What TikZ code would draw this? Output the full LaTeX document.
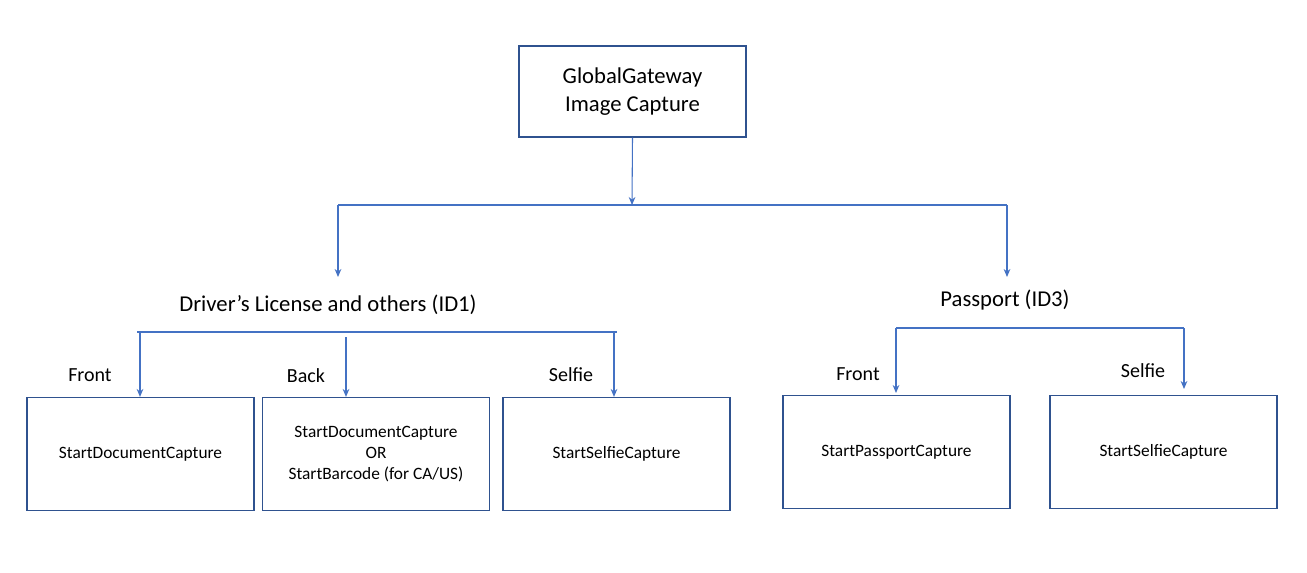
\documentclass[tikz,border=0pt]{standalone}
\usepackage{fontspec}
\setmainfont{Carlito}
\usetikzlibrary{arrows.meta}
\definecolor{bx}{HTML}{2F528F}
\definecolor{ln}{HTML}{4472C4}
\begin{document}
\begin{tikzpicture}[x=0.75pt,y=-0.75pt,
  box/.style={draw=bx,line width=0.9pt,fill=white,inner sep=0pt,align=center,font=\fontsize{13}{16}\selectfont},
  lbl/.style={font=\fontsize{15}{18}\selectfont,inner sep=0pt},
  conn/.style={draw=ln,line width=0.8pt},
  arr/.style={conn,-{Stealth[length=6pt,width=5pt]}}]
\useasboundingbox (0,0) rectangle (1307,572);
\node[box,minimum width=227*0.75pt,minimum height=91*0.75pt,font=\fontsize{17}{21}\selectfont] (top) at (632.5,91.5) {GlobalGateway\\Image Capture};
\node[lbl,font=\fontsize{17}{20}\selectfont] (id1) at (328,305) {Driver’s License and others (ID1)};
\node[lbl,font=\fontsize{17}{20}\selectfont] (id3) at (1005,300) {Passport (ID3)};
\foreach \n/\x/\y/\t in {b1/140.5/454/StartDocumentCapture, b2/376/454/{StartDocumentCapture\\OR\\StartBarcode (for CA/US)}, b3/616.5/454/StartSelfieCapture, b4/896.5/452/StartPassportCapture, b5/1163.5/452/StartSelfieCapture}
  \node[box,minimum width=227*0.75pt,minimum height=113*0.75pt] (\n) at (\x,\y) {\t};
\node[lbl] at (90,375) {Front};
\node[lbl] at (306,376) {Back};
\node[lbl] at (571,375) {Selfie};
\node[lbl] at (858,374) {Front};
\node[lbl] at (1143,371) {Selfie};
\coordinate (j) at (632,205);
\draw[arr] (top.south) -- (j);
\draw[conn] (338,205) -- (1007,205);
\draw[arr] (338,205) -- (338,277);
\draw[arr] (1007,205) -- (1007,277);
\draw[conn] (137,332) -- (617,332);
\draw[arr] (140,332) -- (b1.north -| 140,0);
\draw[arr] (346,337) -- (b2.north -| 346,0);
\draw[arr] (614,332) -- (b3.north -| 614,0);
\draw[conn] (896,328) -- (1184,328);
\draw[arr] (896,328) -- (896,393);
\draw[arr] (1184,328) -- (1184,389);
\end{tikzpicture}
\end{document}
